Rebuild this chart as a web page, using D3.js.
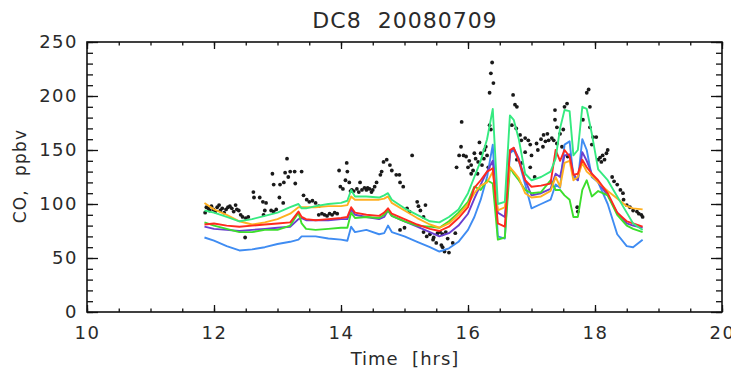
<!DOCTYPE html>
<html>
<head>
<meta charset="utf-8">
<script src="https://cdn.jsdelivr.net/npm/d3@7"></script>
<style>
  html, body { margin: 0; padding: 0; background: #fff; }
  svg { display: block; }
  text { font-family: "DejaVu Sans", sans-serif; fill: #2a2a2a; }
</style>
</head>
<body>
<svg id="chart" width="731" height="371"></svg>
<script>
const title = "DC8  20080709";

// model output times (hrs) shared by all the coloured curves
const modelTime = [11.85, 12.0, 12.2, 12.4, 12.6, 12.8, 13.0, 13.2, 13.33, 13.38, 13.45, 13.6, 13.8, 14.0, 14.1, 14.16, 14.22, 14.4, 14.6, 14.68, 14.74, 14.8, 15.0, 15.2, 15.4, 15.55, 15.7, 15.85, 16.0, 16.1, 16.2, 16.3, 16.39, 16.47, 16.58, 16.66, 16.72, 16.8, 16.9, 17.0, 17.15, 17.3, 17.38, 17.45, 17.52, 17.6, 17.66, 17.73, 17.8, 17.87, 17.95, 18.05, 18.2, 18.35, 18.5, 18.6, 18.75];

const blueCO   = [69, 66, 61, 57, 58, 60, 63, 65, 67, 70, 70, 70, 68, 67, 66, 79, 74, 76, 72, 73, 80, 74, 70, 65, 60, 56, 59, 65, 76, 88, 104, 125, 155, 70, 68, 147, 150, 140, 118, 96, 100, 104, 118, 115, 155, 158, 125, 122, 160, 150, 125, 120, 100, 72, 61, 60, 67];
const purpleCO = [79, 77, 76, 75, 76, 77, 78, 79, 86, 87, 85, 85, 85, 86, 86, 95, 90, 88, 86, 88, 94, 89, 84, 79, 74, 70, 73, 80, 91, 105, 118, 130, 140, 92, 88, 148, 152, 142, 122, 108, 110, 114, 128, 125, 145, 146, 128, 122, 148, 140, 128, 120, 108, 92, 82, 80, 78];
const redCO    = [81, 82, 80, 79, 80, 81, 82, 83, 93, 88, 86, 85, 86, 87, 88, 97, 92, 90, 89, 92, 96, 91, 86, 81, 77, 75, 79, 87, 97, 115, 122, 130, 133, 82, 79, 150, 152, 140, 122, 116, 117, 119, 150, 140, 150, 144, 127, 128, 141, 134, 128, 122, 110, 92, 84, 82, 79];
const orangeCO = [101, 95, 90, 84, 81, 83, 86, 91, 97, 97, 97, 97, 98, 98, 99, 107, 104, 104, 104, 105, 107, 101, 94, 87, 81, 78, 82, 90, 100, 110, 117, 120, 130, 94, 97, 134, 130, 124, 110, 106, 107, 112, 125, 116, 138, 140, 122, 125, 138, 130, 126, 120, 112, 105, 98, 96, 95];
const springCO = [94, 92, 88, 84, 86, 89, 92, 97, 100, 96, 96, 98, 100, 101, 103, 113, 107, 107, 106, 108, 110, 104, 96, 90, 84, 83, 88, 95, 110, 125, 140, 160, 188, 100, 102, 182, 178, 160, 128, 122, 125, 130, 142, 170, 187, 186, 145, 150, 190, 188, 165, 132, 122, 107, 92, 82, 76];
const greenCO  = [83, 80, 77, 74, 74, 76, 76, 80, 92, 82, 77, 76, 77, 78, 78, 92, 87, 88, 87, 90, 94, 89, 84, 80, 79, 78, 84, 92, 102, 116, 113, 122, 119, 67, 69, 134, 128, 122, 113, 110, 111, 122, 113, 113, 108, 104, 88, 88, 113, 122, 107, 112, 108, 90, 80, 77, 74];

// aircraft observations
const obsTime = [11.86, 11.88, 11.91, 11.93, 11.96, 11.99, 12.02, 12.05, 12.08, 12.1, 12.13, 12.16, 12.19, 12.22, 12.25, 12.28, 12.31, 12.34, 12.36, 12.39, 12.42, 12.45, 12.5, 12.54, 12.49,
  12.62, 12.63, 12.72, 12.77, 12.82, 12.78, 12.8, 12.9, 12.94, 12.98, 13.03, 13.09, 12.92, 12.94, 13.04, 13.1, 13.12, 13.15, 13.2, 13.27, 13.28, 13.17,
  13.38, 13.41, 13.46, 13.5, 13.55, 13.6, 13.65, 13.65, 13.7, 13.74, 13.78, 13.82, 13.86, 13.9, 13.94,
  13.97, 14.09, 14.1, 14.07, 14.13, 13.99, 14.03, 14.17, 14.2, 14.25, 14.3, 14.33, 14.37, 14.4, 14.45, 14.5, 14.56, 14.62, 14.64, 14.67, 14.72, 14.77, 14.8, 14.87, 14.92, 14.93, 14.98, 15.12,
  14.15, 14.28, 14.42, 14.48, 14.53,
  15.04, 15.08, 15.2, 15.22, 15.25, 15.33, 15.3, 14.93, 15.0, 15.3, 15.35, 15.45, 15.56, 15.6, 15.65, 15.68, 15.76, 15.6, 15.63, 15.7, 15.46, 15.52, 15.8, 15.4, 15.5, 15.58,
  15.82, 15.86, 15.89, 15.9, 15.93, 15.97, 16.0, 16.05, 16.1, 16.15, 16.16, 16.2, 16.25, 16.28, 16.3, 16.32, 16.05,
  16.02, 16.08, 16.12, 16.22, 16.26, 16.18,
  16.34, 16.36, 16.38, 16.36, 16.4, 16.34,
  16.71, 16.74, 16.77, 16.69, 16.76, 16.82, 16.9, 16.84, 16.95, 16.98, 16.9, 16.77, 16.85, 16.98, 17.1, 17.19, 17.25, 17.27, 17.32, 17.18, 17.05,
  17.0, 17.08, 17.15, 17.22,
  17.37, 17.37, 17.4, 17.4, 17.48, 17.5, 17.52, 17.56, 17.57, 17.45, 17.35, 17.72, 17.73,
  17.9, 17.87, 17.92, 17.92, 17.81, 17.97, 17.95, 18.05, 18.1, 18.15, 18.2, 18.12, 18.02, 18.08, 18.18,
  18.27, 18.3, 18.35, 18.4, 18.44, 18.45, 18.5, 18.55, 18.6, 18.66, 18.73, 18.75, 18.69];
const obsCO = [92, 97, 96, 94, 98, 95, 93, 97, 99, 94, 96, 92, 95, 97, 98, 96, 93, 99, 95, 94, 90, 88, 87, 88, 69,
  111, 106, 106, 102, 101, 90, 94, 94, 93, 95, 106, 101, 128, 118, 118, 120, 129, 142, 130, 130, 119, 125,
  130, 108, 104, 102, 103, 101, 98, 90, 91, 90, 89, 91, 90, 92, 91,
  131, 138, 130, 122, 120, 116, 114, 113, 112, 114, 120, 113, 115, 113, 114, 113, 120, 127, 130, 139, 141, 136, 131, 127, 127, 120, 116, 145,
  112, 111, 115, 111, 116,
  96, 93, 102, 98, 94, 99, 88, 76, 78, 74, 70, 67, 74, 72, 74, 68, 64, 60, 56, 55, 69, 73, 73, 72, 64, 62,
  134, 145, 153, 176, 145, 144, 134, 136, 147, 128, 139, 147, 142, 153, 145, 134, 128,
  140, 131, 142, 136, 150, 157,
  173, 169, 231, 221, 212, 203,
  201, 192, 190, 173, 170, 164, 161, 159, 159, 155, 148, 141, 138, 134, 150, 164, 165, 159, 161, 153, 125,
  145, 156, 160, 158,
  187, 178, 171, 156, 153, 169, 190, 193, 144, 165, 159, 97, 93,
  206, 203, 190, 171, 178, 162, 155, 141, 139, 141, 150, 145, 162, 143, 147,
  125, 121, 118, 113, 110, 104, 99, 97, 94, 93, 90, 88, 91];

const xTicks = [10, 12, 14, 16, 18, 20];
const yTicks = [0, 50, 100, 150, 200, 250];

const series = [
  { values: blueCO, color: "#3f8cf2" },
  { values: purpleCO, color: "#6a3fd0" },
  { values: greenCO, color: "#3cde2c" },
  { values: orangeCO, color: "#ffb020" },
  { values: redCO, color: "#ff2a1e" },
  { values: springCO, color: "#35ea80" }
];

const svg = d3.select("#chart");
const margin = { left: 87, right: 9, top: 42, bottom: 59 };
const W = 731, H = 371;

const x = d3.scaleLinear().domain([10, 20]).range([margin.left, W - margin.right]);
const y = d3.scaleLinear().domain([0, 250]).range([H - margin.bottom, margin.top]);

svg.append("rect").attr("width", W).attr("height", H).attr("fill", "#fff");

svg.append("defs").append("clipPath").attr("id", "plot")
  .append("rect")
  .attr("x", x(10)).attr("y", y(250))
  .attr("width", x(20) - x(10)).attr("height", y(0) - y(250));

const xMinor = d3.range(10, 20.01, 0.5);
const yMinor = d3.range(0, 250.1, 10);

function styleAxis(g) {
  g.select(".domain").remove();
  g.selectAll("line").attr("stroke", "#111").attr("stroke-width", 1.3);
  g.selectAll("text")
    .style("font-size", "18px")
    .style("letter-spacing", "1.5px")
    .attr("fill", "#2a2a2a");
}

// bottom axis with labels
svg.append("g").attr("transform", `translate(0,${y(0)})`)
  .call(d3.axisBottom(x).tickValues(xMinor).tickSize(-3.5).tickFormat(""))
  .call(styleAxis);
svg.append("g").attr("transform", `translate(0,${y(0)})`)
  .call(d3.axisBottom(x).tickValues(xTicks).tickSize(-7).tickPadding(14).tickFormat(d3.format("d")))
  .call(styleAxis);
// top axis, ticks only
svg.append("g").attr("transform", `translate(0,${y(250)})`)
  .call(d3.axisTop(x).tickValues(xMinor).tickSize(-3.5).tickFormat(""))
  .call(styleAxis);
svg.append("g").attr("transform", `translate(0,${y(250)})`)
  .call(d3.axisTop(x).tickValues(xTicks).tickSize(-7).tickFormat(""))
  .call(styleAxis);
// left axis with labels
svg.append("g").attr("transform", `translate(${x(10)},0)`)
  .call(d3.axisLeft(y).tickValues(yMinor).tickSize(-6).tickFormat(""))
  .call(styleAxis);
svg.append("g").attr("transform", `translate(${x(10)},0)`)
  .call(d3.axisLeft(y).tickValues(yTicks).tickSize(-11).tickPadding(9).tickFormat(d3.format("d")))
  .call(styleAxis);
// right axis, ticks only
svg.append("g").attr("transform", `translate(${x(20)},0)`)
  .call(d3.axisRight(y).tickValues(yMinor).tickSize(-6).tickFormat(""))
  .call(styleAxis);
svg.append("g").attr("transform", `translate(${x(20)},0)`)
  .call(d3.axisRight(y).tickValues(yTicks).tickSize(-11).tickFormat(""))
  .call(styleAxis);

// plot frame
svg.append("rect")
  .attr("x", x(10)).attr("y", y(250))
  .attr("width", x(20) - x(10)).attr("height", y(0) - y(250))
  .attr("fill", "none").attr("stroke", "#111").attr("stroke-width", 1.6);

const plot = svg.append("g").attr("clip-path", "url(#plot)");

// observations
plot.selectAll("circle.obs")
  .data(obsTime.map((t, i) => [t, obsCO[i]]))
  .join("circle")
  .attr("class", "obs")
  .attr("cx", d => x(d[0]))
  .attr("cy", d => y(d[1]))
  .attr("r", 1.9)
  .attr("fill", "#1a1a1a");

// model curves
const line = d3.line()
  .x((d, i) => x(modelTime[i]))
  .y(d => y(d));

plot.selectAll("path.model")
  .data(series)
  .join("path")
  .attr("class", "model")
  .attr("fill", "none")
  .attr("stroke", d => d.color)
  .attr("stroke-width", 1.9)
  .attr("stroke-linejoin", "round")
  .attr("d", d => line(d.values));

// titles
svg.append("text")
  .attr("x", 405).attr("y", 28)
  .attr("text-anchor", "middle")
  .style("font-size", "22px")
  .style("letter-spacing", "1px")
  .style("white-space", "pre")
  .text(title);

svg.append("text")
  .attr("x", 405).attr("y", 365)
  .attr("text-anchor", "middle")
  .style("font-size", "18px")
  .style("letter-spacing", "1px")
  .style("white-space", "pre")
  .text("Time  [hrs]");

svg.append("text")
  .attr("transform", "translate(26,176) rotate(-90)")
  .attr("text-anchor", "middle")
  .style("font-size", "17px")
  .style("letter-spacing", "1.2px")
  .style("white-space", "pre")
  .text("CO,  ppbv");
</script>
</body>
</html>
